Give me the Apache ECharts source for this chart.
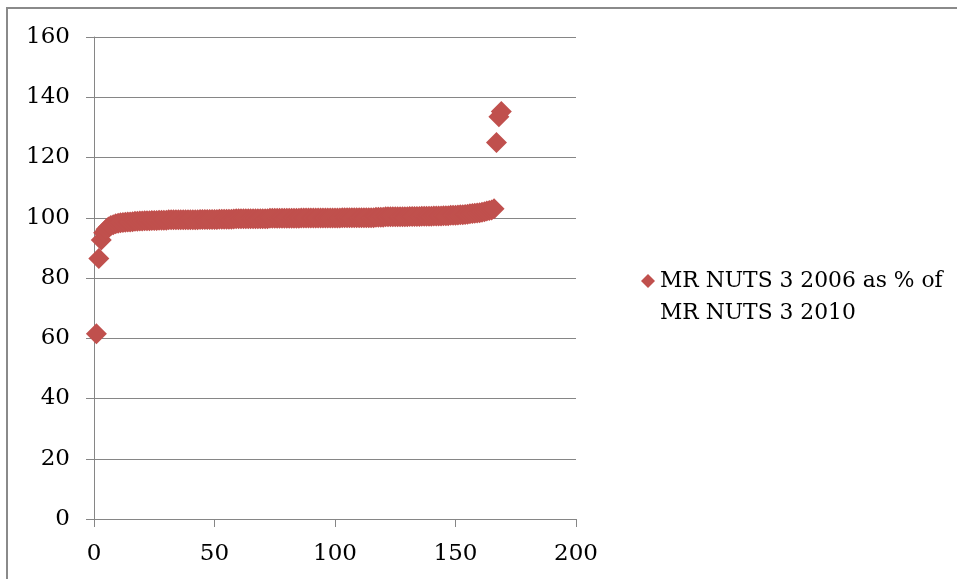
<!DOCTYPE html>
<html>
<head>
<meta charset="utf-8">
<script src="https://cdn.jsdelivr.net/npm/echarts@6/dist/echarts.min.js"></script>
<style>
  html, body { margin: 0; padding: 0; background: #fff; }
  #chart { width: 957px; height: 579px; }
</style>
</head>
<body>
<div id="chart"></div>
<script>
// Series name shown in the legend (two lines)
const seriesLine1 = 'MR NUTS 3 2006 as % of';
const seriesLine2 = 'MR NUTS 3 2010';

// Axis tick settings
const xTicks = { min: 0, max: 200, interval: 50 };
const yTicks = { min: 0, max: 160, interval: 20 };

// Ratio 2006/2010 (%) per NUTS 3 region, sorted ascending; x is the rank
const ratioValues = [
  61.5, 86.5, 92.6, 95.0, 96.2, 96.9, 97.4, 97.7, 98.0, 98.2,
  98.3, 98.4, 98.5, 98.6, 98.6, 98.7, 98.8, 98.8, 98.9, 98.9,
  99.0, 99.0, 99.0, 99.1, 99.1, 99.1, 99.2, 99.2, 99.2, 99.2,
  99.3, 99.3, 99.3, 99.3, 99.3, 99.3, 99.3, 99.3, 99.3, 99.3,
  99.3, 99.3, 99.3, 99.4, 99.4, 99.4, 99.4, 99.4, 99.4, 99.4,
  99.4, 99.5, 99.5, 99.5, 99.5, 99.5, 99.5, 99.6, 99.7, 99.7,
  99.7, 99.7, 99.7, 99.7, 99.7, 99.7, 99.7, 99.7, 99.7, 99.7,
  99.7, 99.7, 99.8, 99.8, 99.8, 99.8, 99.8, 99.8, 99.8, 99.8,
  99.8, 99.8, 99.8, 99.8, 99.8, 99.9, 99.9, 99.9, 99.9, 99.9,
  99.9, 99.9, 99.9, 99.9, 99.9, 99.9, 99.9, 99.9, 99.9, 99.9,
  99.9, 99.9, 100.0, 100.0, 100.0, 100.0, 100.0, 100.0, 100.0, 100.0,
  100.0, 100.0, 100.0, 100.0, 100.0, 100.0, 100.2, 100.2, 100.2, 100.2,
  100.3, 100.3, 100.3, 100.3, 100.3, 100.3, 100.3, 100.3, 100.3, 100.3,
  100.4, 100.4, 100.4, 100.4, 100.4, 100.5, 100.5, 100.5, 100.5, 100.5,
  100.6, 100.6, 100.6, 100.6, 100.7, 100.7, 100.7, 100.8, 100.8, 100.8,
  100.9, 101.0, 101.0, 101.1, 101.2, 101.3, 101.4, 101.5, 101.6, 101.7,
  101.8, 102.0, 102.2, 102.4, 102.6, 103.0, 125.0, 133.5, 135.3
];

const points = ratioValues.map((v, i) => [i + 1, v]);

const FONT = 'DejaVu Serif';
const GRAY = '#868686';
const RED = '#c0504d';

const chart = echarts.init(document.getElementById('chart'), null, { renderer: 'canvas' });

chart.setOption({
  backgroundColor: '#ffffff',
  animation: false,
  grid: { left: 94, right: 381, top: 37, bottom: 60, containLabel: false },
  xAxis: {
    type: 'value',
    min: xTicks.min, max: xTicks.max, interval: xTicks.interval,
    axisLine: { show: true, onZero: false, lineStyle: { color: GRAY, width: 1 } },
    axisTick: { show: true, inside: false, length: 8, lineStyle: { color: GRAY } },
    splitLine: { show: false },
    axisLabel: { color: '#000', fontFamily: FONT, fontSize: 23, margin: 24 }
  },
  yAxis: {
    type: 'value',
    min: yTicks.min, max: yTicks.max, interval: yTicks.interval,
    axisLine: { show: true, onZero: false, lineStyle: { color: GRAY, width: 1 } },
    axisTick: { show: true, inside: false, length: 8, lineStyle: { color: GRAY } },
    splitLine: { show: true, lineStyle: { color: GRAY, width: 1 } },
    axisLabel: { color: '#000', fontFamily: FONT, fontSize: 23, margin: 24 }
  },
  legend: {
    left: 636, top: 265,
    orient: 'vertical',
    itemWidth: 14, itemHeight: 14,
    icon: 'diamond',
    formatter: () => seriesLine1,
    textStyle: { color: '#000', fontFamily: FONT, fontSize: 21.8 },
    data: [seriesLine1 + ' ' + seriesLine2]
  },
  graphic: [
    {
      type: 'polyline',
      shape: { points: [[7, 620], [7, 8], [980, 8]] },
      style: { fill: null, stroke: '#8a8a8a', lineWidth: 2 },
      silent: true, z: -1
    },
    {
      type: 'text',
      left: 660, top: 302,
      style: { text: seriesLine2, fill: '#000', font: '21.8px "' + FONT + '"' }
    }
  ],
  series: [{
    name: seriesLine1 + ' ' + seriesLine2,
    type: 'scatter',
    symbol: 'diamond',
    symbolSize: 21,
    itemStyle: { color: RED, opacity: 1 },
    data: points
  }]
});
</script>
</body>
</html>
